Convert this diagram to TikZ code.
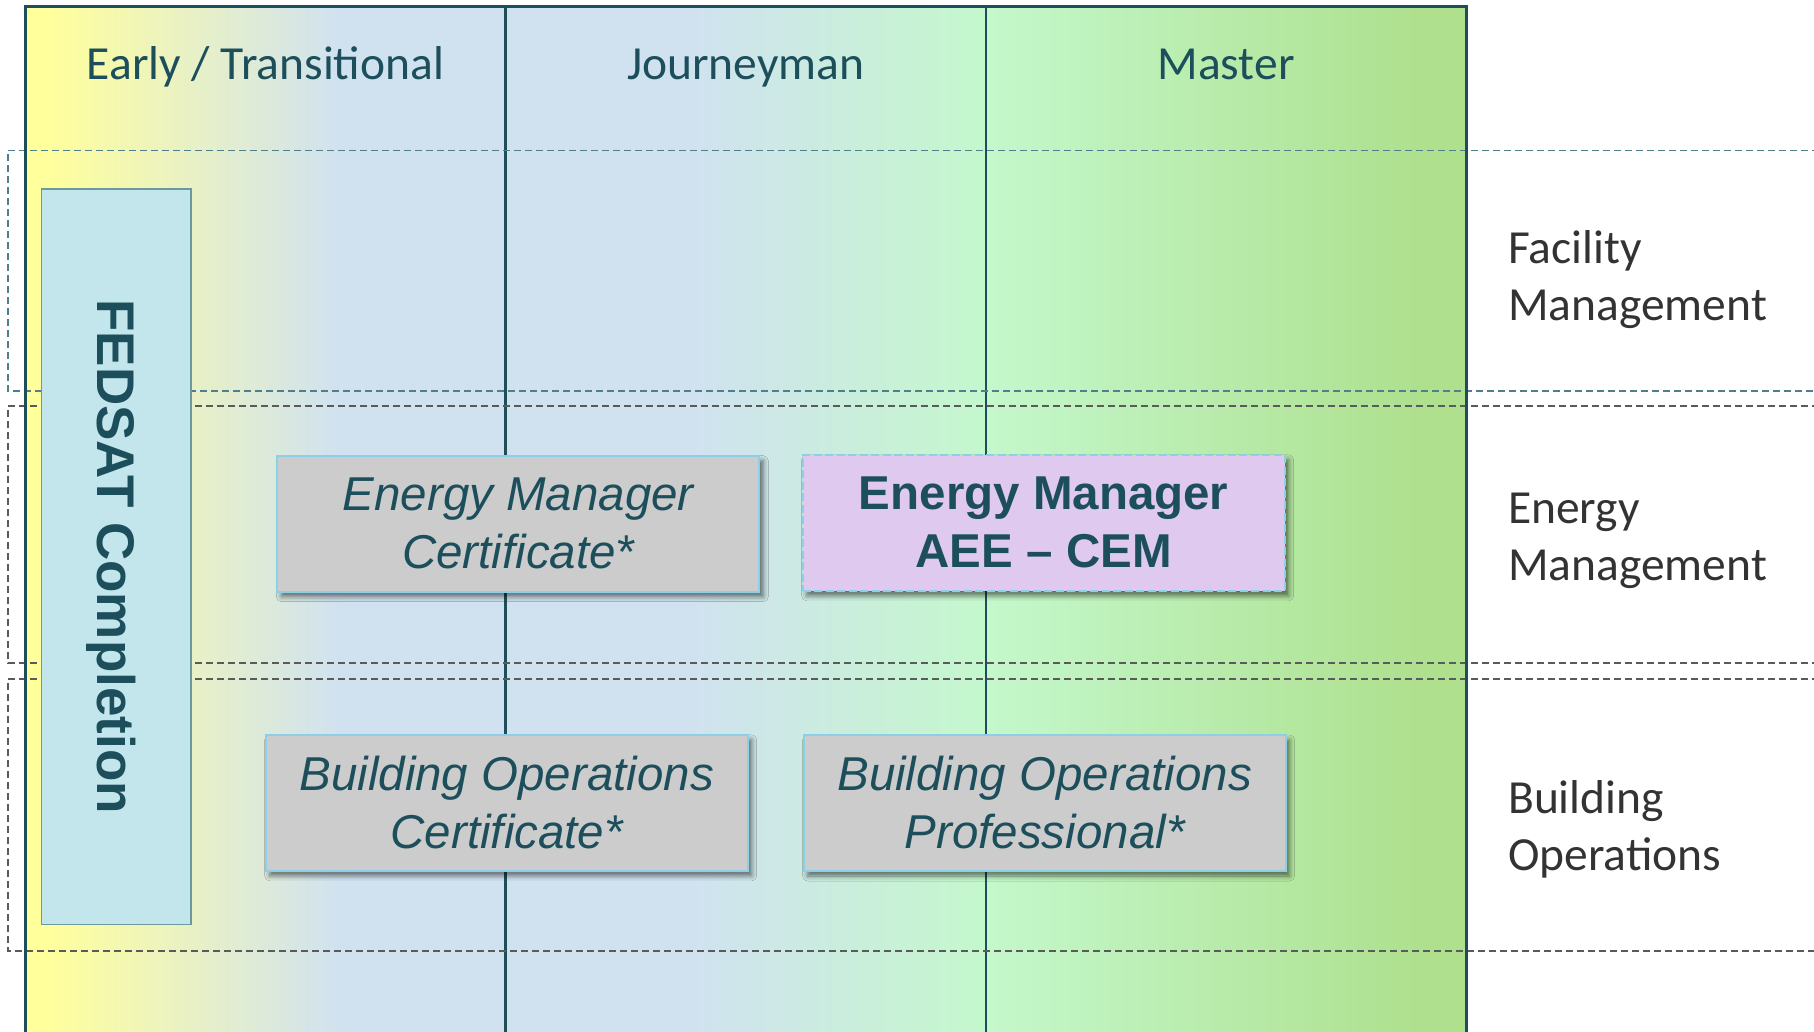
\documentclass[tikz,border=0pt]{standalone}
\usepackage{fontspec}
\setmainfont{Liberation Sans}
\newfontfamily\calibri{Carlito}
\usetikzlibrary{shadows.blur}
\definecolor{tealtxt}{HTML}{1C4F5B}
\definecolor{frameline}{HTML}{1F4E5B}
\definecolor{cyel}{HTML}{FFFF9C}
\definecolor{cblue}{HTML}{D0E2F0}
\definecolor{cmint}{HTML}{C4F8CC}
\definecolor{cgreen}{HTML}{AEE08E}
\definecolor{boxgray}{HTML}{CCCCCC}
\definecolor{boxline}{HTML}{8ECFE8}
\definecolor{lav}{HTML}{DFC9EE}
\definecolor{fedfill}{HTML}{C3E6EC}
\definecolor{fedline}{HTML}{6C989E}
\definecolor{dashteal}{HTML}{4F7F8A}
\definecolor{dashgray}{HTML}{5A5A5A}
\definecolor{labelgray}{HTML}{333333}
\pgfdeclarehorizontalshading{frameshade}{100bp}{color(0bp)=(cyel); color(25.8bp)=(cyel); color(35.9bp)=(cblue); color(48.1bp)=(cblue); color(58.35bp)=(cmint); color(73.4bp)=(cgreen); color(100bp)=(cgreen)}
\begin{document}
\begin{tikzpicture}[x=1pt,y=-1pt,
  colline/.style={draw=frameline, line width=2.4pt},
  frameborder/.style={draw=frameline, line width=3pt, line join=miter},
  dashrow/.style={line width=1.4pt, dash pattern=on 7pt off 4pt},
  hdr/.style={font=\calibri\fontsize{47.5}{57}\selectfont, text=tealtxt, inner sep=0pt, anchor=base},
  rowlbl/.style={font=\calibri\fontsize{47.5}{57}\selectfont, text=labelgray, align=left, inner sep=0pt, anchor=base west},
  certbox/.style={draw=boxline, line width=2pt, fill=boxgray, minimum width=482pt, minimum height=136pt, inner sep=0pt, align=center, text=tealtxt, font=\itshape\fontsize{47.5}{58}\selectfont, blur shadow={shadow xshift=4pt, shadow yshift=-5pt, shadow blur radius=5pt, shadow opacity=55}},
  aeebox/.style={certbox, fill=lav, dash pattern=on 8pt off 3.5pt, font=\bfseries\fontsize{47.5}{58}\selectfont},
  fedbox/.style={draw=fedline, line width=1.5pt, fill=fedfill, inner sep=0pt, text=tealtxt, font=\bfseries\fontsize{53}{60}\selectfont, text depth=0pt}
]
\useasboundingbox (0,0) rectangle (1814,1032);
\shade[shading=frameshade] (25.5,7) rectangle (1466,1050);
\draw[colline] (505.6,7) -- (505.6,1050);
\draw[colline] (985.7,7) -- (985.7,1050);
\draw[dashrow, draw=dashteal] (1830,150.4) -- (8,150.4) -- (8,391) -- (1830,391);
\draw[dashrow, draw=dashgray] (1830,406) -- (8,406) -- (8,663) -- (1830,663);
\draw[dashrow, draw=dashgray] (1830,679) -- (8,679) -- (8,951) -- (1830,951);
\draw[frameborder] (25.5,1050) -- (25.5,7) -- (1466,7) -- (1466,1050);

\node[hdr] (h1) at (265.5,80) {Early / Transitional};
\node[hdr] (h2) at (745.7,80) {Journeyman};
\node[hdr] (h3) at (1226,80) {Master};

\node[rowlbl] (fm) at (1508,320.5) {Facility\\Management};
\node[rowlbl] (em) at (1508,580) {Energy\\Management};
\node[rowlbl] (bo) at (1508,870) {Building\\Operations};

\node[fedbox, rotate=-90, minimum width=735.3pt, minimum height=149.3pt] (fed) at (116.35,556.65) {FEDSAT Completion};

\node[certbox] (emc) at (518.3,523.7) {Energy Manager\\Certificate*};
\node[aeebox] (aee) at (1043.7,522.8) {Energy Manager\\AEE – CEM};
\node[certbox] (boc) at (506.7,802.8) {Building Operations\\Certificate*};
\node[certbox] (bop) at (1044.6,803) {Building Operations\\Professional*};
\end{tikzpicture}
\end{document}
